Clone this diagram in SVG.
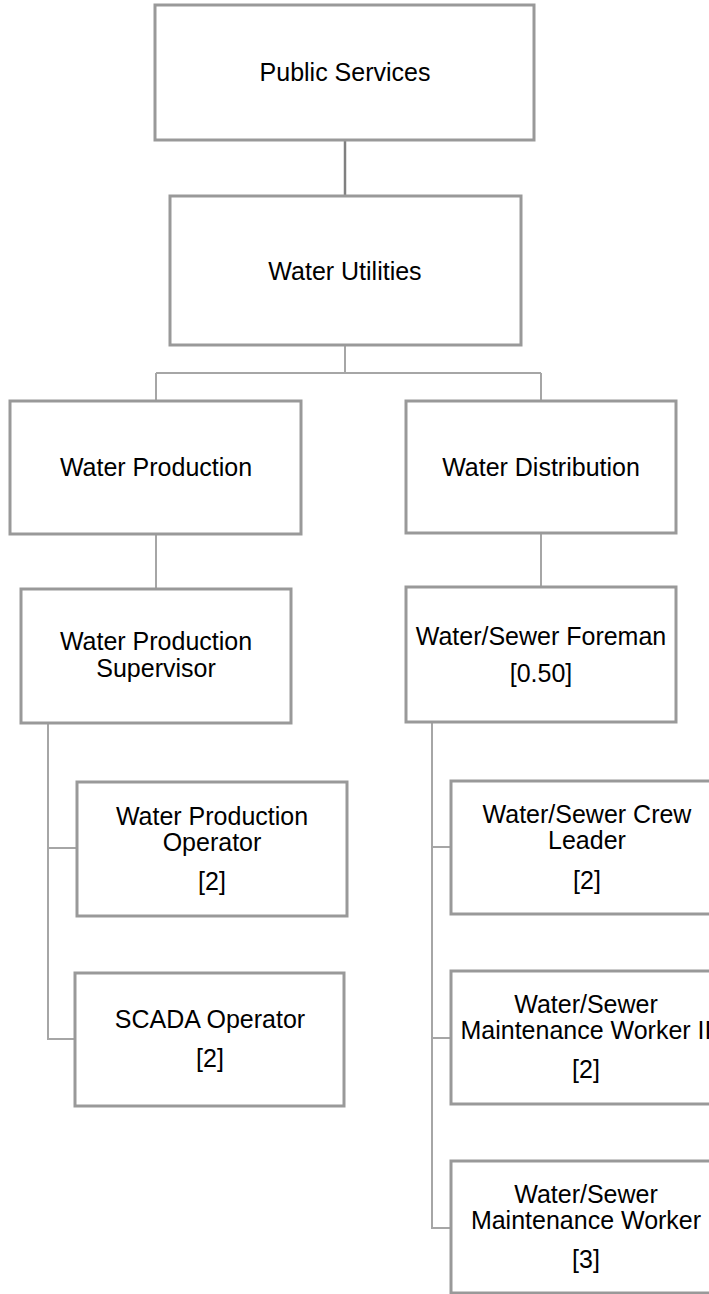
<svg xmlns="http://www.w3.org/2000/svg" width="709" height="1294" viewBox="0 0 709 1294">
<style>
.box{fill:#ffffff;stroke:#999999;stroke-width:3}
.t{font-family:"Liberation Sans",Arial,sans-serif;font-size:25px;fill:#000000;text-anchor:middle}
.c{fill:none;stroke:#a6a6a6;stroke-width:2}
.c1{fill:none;stroke:#808080;stroke-width:2.5}
</style>
<rect width="709" height="1294" fill="#ffffff"/>
<g id="connectors">
<path class="c1" d="M345,140 V196"/>
<path class="c" d="M345,345 V373 M156,373 H541 M156,373 V401 M541,373 V401"/>
<path class="c" d="M156,534 V589"/>
<path class="c" d="M541,533 V587"/>
<path class="c" d="M48,723 V1039 H75 M48,848 H77"/>
<path class="c" d="M432,722 V1228 H451 M432,847 H451 M432,1038 H451"/>
</g>
<g id="public-services">
<rect class="box" x="155" y="5" width="379" height="135"/>
<text class="t" x="345" y="81">Public Services</text>
</g>
<g id="water-utilities">
<rect class="box" x="170" y="196" width="351" height="149"/>
<text class="t" x="345" y="280">Water Utilities</text>
</g>
<g id="water-production">
<rect class="box" x="10" y="401" width="291" height="133"/>
<text class="t" x="156" y="476">Water Production</text>
</g>
<g id="water-distribution">
<rect class="box" x="406" y="401" width="270" height="132"/>
<text class="t" x="541" y="476">Water Distribution</text>
</g>
<g id="water-production-supervisor">
<rect class="box" x="21" y="589" width="270" height="134"/>
<text class="t" x="156" y="650">Water Production</text>
<text class="t" x="156" y="677">Supervisor</text>
</g>
<g id="water-sewer-foreman">
<rect class="box" x="406" y="587" width="270" height="135"/>
<text class="t" x="541" y="645">Water/Sewer Foreman</text>
<text class="t" x="541" y="682">[0.50]</text>
</g>
<g id="water-production-operator">
<rect class="box" x="77" y="782" width="270" height="134"/>
<text class="t" x="212" y="825">Water Production</text>
<text class="t" x="212" y="851">Operator</text>
<text class="t" x="212" y="890">[2]</text>
</g>
<g id="scada-operator">
<rect class="box" x="75" y="973" width="269" height="133"/>
<text class="t" x="210" y="1028">SCADA Operator</text>
<text class="t" x="210" y="1067">[2]</text>
</g>
<g id="crew-leader">
<rect class="box" x="451" y="781" width="270" height="133"/>
<text class="t" x="587" y="823">Water/Sewer Crew</text>
<text class="t" x="587" y="849">Leader</text>
<text class="t" x="587" y="889">[2]</text>
</g>
<g id="maintenance-worker-ii">
<rect class="box" x="451" y="971" width="270" height="133"/>
<text class="t" x="586" y="1013">Water/Sewer</text>
<text class="t" x="586" y="1039">Maintenance Worker II</text>
<text class="t" x="586" y="1078">[2]</text>
</g>
<g id="maintenance-worker">
<rect class="box" x="451" y="1161" width="270" height="132"/>
<text class="t" x="586" y="1203">Water/Sewer</text>
<text class="t" x="586" y="1229">Maintenance Worker</text>
<text class="t" x="586" y="1268">[3]</text>
</g>
</svg>
